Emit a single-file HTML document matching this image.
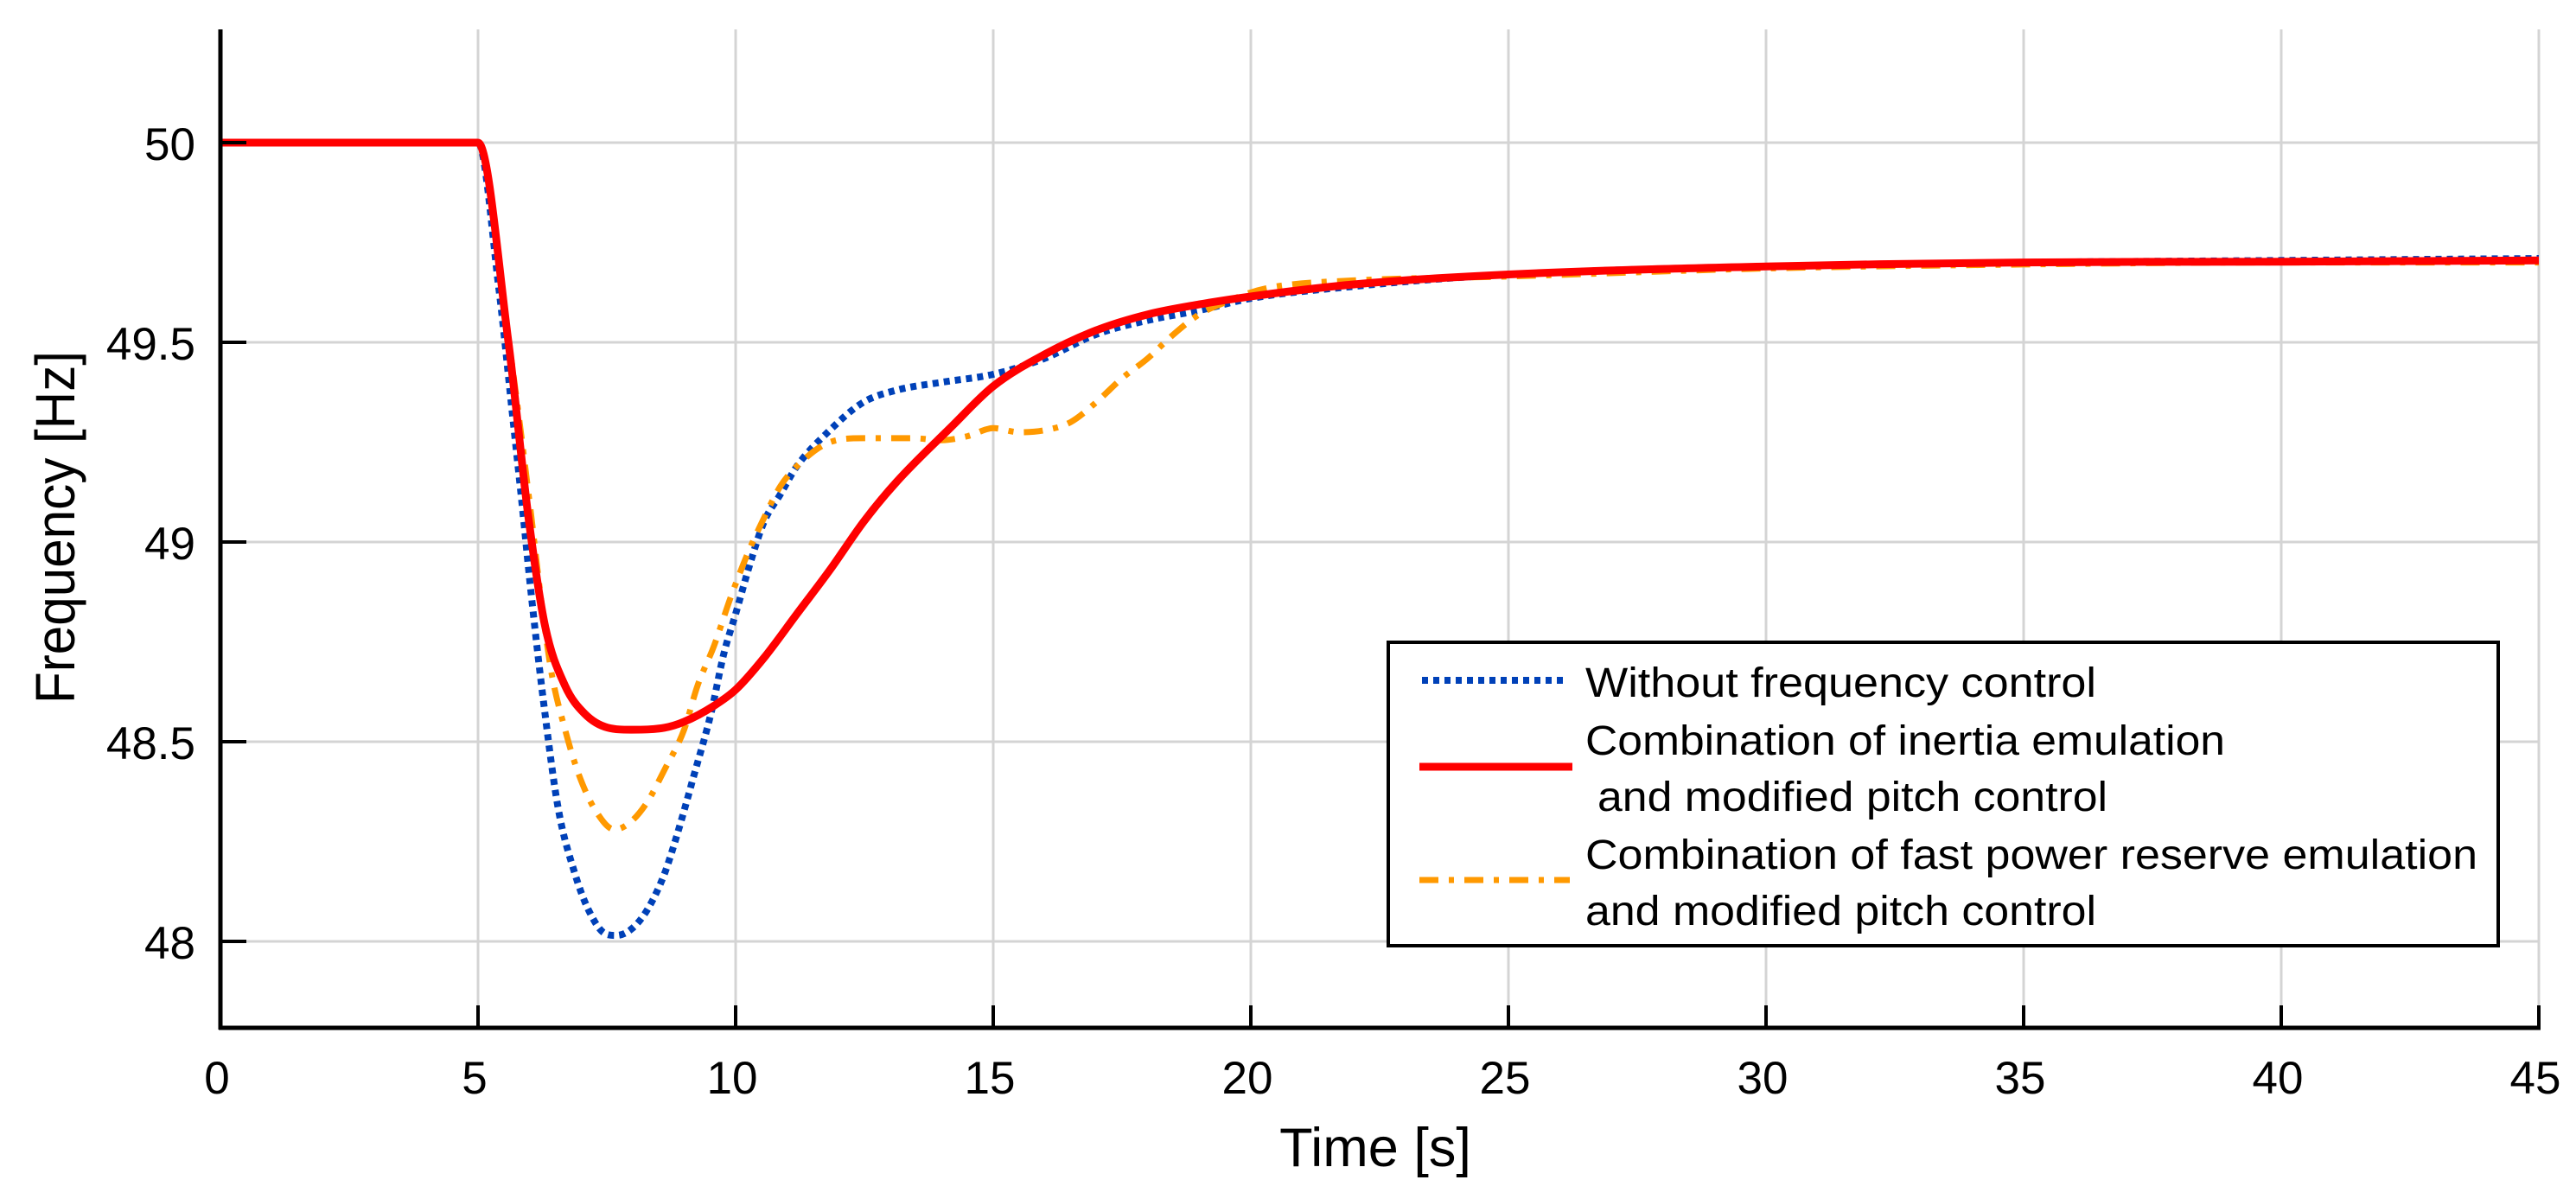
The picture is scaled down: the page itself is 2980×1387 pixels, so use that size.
<!DOCTYPE html>
<html><head><meta charset="utf-8"><style>
html,body{margin:0;padding:0;background:#fff}
svg{display:block}
text{font-family:"Liberation Sans",Arial,sans-serif;fill:#000}
</style></head><body>
<svg id="chart" width="2980" height="1387" viewBox="0 0 2980 1387" xmlns="http://www.w3.org/2000/svg">
<g id="grid"></g>
<g id="series"></g>
<g id="axes"></g>
<text transform="translate(86,610) rotate(-90)" text-anchor="middle" font-size="64" textLength="408" lengthAdjust="spacingAndGlyphs">Frequency [Hz]</text>
<text x="1591" y="1349" text-anchor="middle" font-size="63">Time [s]</text>
<g>
<rect x="1606" y="743" width="1284" height="351" fill="#fff" stroke="#000" stroke-width="4"/>
<line x1="1645" y1="787" x2="1808" y2="787" stroke="#0041b8" stroke-width="8" stroke-dasharray="7 6"/>
<text x="1834" y="806" font-size="48" textLength="591" lengthAdjust="spacingAndGlyphs">Without frequency control</text>
<line x1="1642" y1="887" x2="1819" y2="887" stroke="#ff0000" stroke-width="9"/>
<text x="1834" y="873" font-size="48" textLength="740" lengthAdjust="spacingAndGlyphs">Combination of inertia emulation</text>
<text x="1848" y="938" font-size="48" textLength="590" lengthAdjust="spacingAndGlyphs">and modified pitch control</text>
<line x1="1642" y1="1018" x2="1816" y2="1018" stroke="#ff9900" stroke-width="7" stroke-dasharray="22 12 6 12"/>
<text x="1834" y="1005" font-size="48" textLength="1032" lengthAdjust="spacingAndGlyphs">Combination of fast power reserve emulation</text>
<text x="1834" y="1070" font-size="48" textLength="591" lengthAdjust="spacingAndGlyphs">and modified pitch control</text>
</g>
</svg>
<script>
const xTicks = [0,5,10,15,20,25,30,35,40,45];
const yTicks = [48,48.5,49,49.5,50];
const yTickLabels = ["48","48.5","49","49.5","50"];
const tBlue = [0,5,5.4,5.66,5.85,6.04,6.3,6.56,6.88,7.14,7.46,7.68,7.97,8.29,8.62,8.87,9.2,9.52,9.77,10,10.29,10.55,10.87,11.19,11.83,12.48,13.12,14,15,16,17,18,19,20,22,25,30,35,40,45];
const vBlue = [50,50,49.64,49.33,49.1,48.86,48.57,48.33,48.17,48.08,48.02,48.015,48.03,48.08,48.17,48.27,48.42,48.57,48.72,48.82,48.95,49.05,49.12,49.19,49.28,49.35,49.38,49.4,49.42,49.46,49.52,49.555,49.58,49.61,49.64,49.67,49.69,49.70,49.705,49.71];
const tRed = [0,5,5.59,5.98,6.3,6.69,7.07,7.52,7.97,8.62,9.0,9.58,10,10.55,11.19,11.83,12.48,13.12,14.2,15,16,17,18,19,20,22,25,30,35,40,45];
const vRed = [50,50,49.5,49.06,48.79,48.64,48.57,48.535,48.53,48.535,48.55,48.59,48.63,48.71,48.82,48.93,49.05,49.15,49.29,49.39,49.47,49.53,49.57,49.595,49.615,49.645,49.67,49.69,49.70,49.702,49.705];
const tOrange = [0,5,5.6,6.0,6.24,6.43,6.69,6.95,7.27,7.65,7.97,8.29,8.62,9.0,9.26,9.58,9.9,10.23,10.55,10.87,11.19,11.83,12.48,13.44,14,14.5,15,15.5,16,16.5,17,17.5,18,18.5,19,19.5,20,20.5,22,25,30,35,40,45];
const vOrange = [50,50,49.5,49.1,48.84,48.67,48.53,48.42,48.33,48.28,48.3,48.35,48.43,48.53,48.64,48.74,48.86,48.97,49.06,49.14,49.19,49.25,49.26,49.26,49.255,49.265,49.285,49.275,49.28,49.30,49.35,49.41,49.46,49.52,49.57,49.60,49.625,49.64,49.655,49.665,49.685,49.695,49.70,49.70];

const X0=255, X1=2937, Y50=165, PXHZ=462;
function sx(t){return X0+(X1-X0)*t/45;}
function sy(v){return Y50+(50-v)*PXHZ;}
const NS='http://www.w3.org/2000/svg';
function mk(tag,attrs,parent){const e=document.createElementNS(NS,tag);for(const k in attrs)e.setAttribute(k,attrs[k]);parent.appendChild(e);return e;}
const grid=document.getElementById('grid'), axes=document.getElementById('axes'), series=document.getElementById('series');
const yTop=34, yBot=1189;
xTicks.forEach(t=>{
  if(t>0){const g=mk('line',{x1:sx(t),y1:yTop,x2:sx(t),y2:yBot,stroke:'#d4d4d4','stroke-width':3},grid);
  
  }
  const tk=mk('line',{x1:sx(t),y1:yBot,x2:sx(t),y2:yBot-26,stroke:'#000','stroke-width':4},axes);
  
  
  const lb=mk('text',{x:sx(t)-4,y:1265,'text-anchor':'middle','font-size':53},axes);
  lb.textContent=String(t);
  
  
});
yTicks.forEach((v,i)=>{
  const g=mk('line',{x1:X0,y1:sy(v),x2:X1,y2:sy(v),stroke:'#d4d4d4','stroke-width':3},grid);
  
  
  const tk=mk('line',{x1:X0,y1:sy(v),x2:X0+30,y2:sy(v),stroke:'#000','stroke-width':4},axes);
  
  
  const lb=mk('text',{x:226,y:sy(v)+20,'text-anchor':'end','font-size':53},axes);
  lb.textContent=yTickLabels[i];
  
  
});
const ya=mk('line',{x1:X0,y1:yTop,x2:X0,y2:yBot+2,stroke:'#000','stroke-width':5},axes);


const xa=mk('line',{x1:X0-2,y1:yBot,x2:X1+2,y2:yBot,stroke:'#000','stroke-width':5},axes);



function monoPath(ts,vs){
  const n=ts.length, xs=ts.map(sx), ys=vs.map(sy);
  const d=[],m=new Array(n);
  for(let i=0;i<n-1;i++)d.push((ys[i+1]-ys[i])/(xs[i+1]-xs[i]));
  m[0]=d[0];m[n-1]=d[n-2];
  for(let i=1;i<n-1;i++){m[i]=(d[i-1]*d[i]<=0)?0:(d[i-1]+d[i])/2;}
  for(let i=0;i<n-1;i++){
    if(d[i]===0){m[i]=0;m[i+1]=0;continue;}
    const a=m[i]/d[i],b=m[i+1]/d[i],s=a*a+b*b;
    if(s>9){const tt=3/Math.sqrt(s);m[i]=tt*a*d[i];m[i+1]=tt*b*d[i];}
  }
  let p='M'+xs[0].toFixed(1)+','+ys[0].toFixed(1);
  for(let i=0;i<n-1;i++){
    const h=(xs[i+1]-xs[i])/3;
    p+=' C'+(xs[i]+h).toFixed(1)+','+(ys[i]+m[i]*h).toFixed(1)+' '+(xs[i+1]-h).toFixed(1)+','+(ys[i+1]-m[i+1]*h).toFixed(1)+' '+xs[i+1].toFixed(1)+','+ys[i+1].toFixed(1);
  }
  return p;
}
const pb=mk('path',{d:monoPath(tBlue,vBlue),fill:'none',stroke:'#0041b8','stroke-width':8,'stroke-dasharray':'7 6'},series);


const po=mk('path',{d:monoPath(tOrange,vOrange),fill:'none',stroke:'#ff9900','stroke-width':7,'stroke-dasharray':'22 12 6 12'},series);


const pr=mk('path',{d:monoPath(tRed,vRed),fill:'none',stroke:'#ff0000','stroke-width':9},series);


</script>
</body></html>
